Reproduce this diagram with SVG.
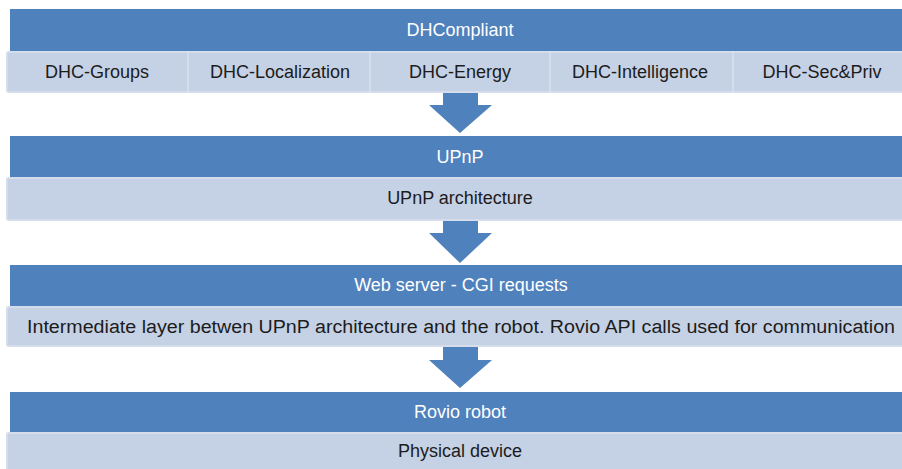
<svg xmlns="http://www.w3.org/2000/svg" width="902" height="469" viewBox="0 0 902 469">
<style>
.band{fill:#4f81bd}
.sub{fill:#c5d1e4;stroke:#d5dded;stroke-width:2}
.arrow{fill:#4f81bd}
text{font-family:"Liberation Sans",Arial,sans-serif;font-size:18px;text-anchor:middle}
.tw{fill:#ffffff}
.tb{fill:#1c1c1c}
</style>
<rect width="902" height="469" fill="#ffffff"/>
<g id="dhcompliant">
<rect class="band" x="10" y="9" width="892" height="42"/>
<text class="tw" x="460" y="36">DHCompliant</text>
</g>
<g id="dhc-groups">
<rect class="sub" x="7" y="52" width="181" height="40" rx="2"/>
<text class="tb" x="97" y="78">DHC-Groups</text>
</g>
<g id="dhc-localization">
<rect class="sub" x="188" y="52" width="182" height="40" rx="2"/>
<text class="tb" x="280" y="78">DHC-Localization</text>
</g>
<g id="dhc-energy">
<rect class="sub" x="370" y="52" width="180" height="40" rx="2"/>
<text class="tb" x="460" y="78">DHC-Energy</text>
</g>
<g id="dhc-intelligence">
<rect class="sub" x="550" y="52" width="183" height="40" rx="2"/>
<text class="tb" x="640" y="78">DHC-Intelligence</text>
</g>
<g id="dhc-secpriv">
<rect class="sub" x="733" y="52" width="172" height="40" rx="2"/>
<text class="tb" x="822" y="78">DHC-Sec&amp;Priv</text>
</g>
<g id="upnp">
<rect class="band" x="10" y="136" width="892" height="41"/>
<text class="tw" x="460" y="163">UPnP</text>
<rect class="sub" x="7" y="178" width="898" height="42" rx="2"/>
<text class="tb" x="460" y="204">UPnP architecture</text>
</g>
<g id="webserver">
<rect class="band" x="10" y="265" width="892" height="41"/>
<text class="tw" x="461" y="291">Web server - CGI requests</text>
<rect class="sub" x="7" y="307" width="898" height="39" rx="2"/>
<text class="tb" x="461" y="333" textLength="868" lengthAdjust="spacingAndGlyphs">Intermediate layer betwen UPnP architecture and the robot. Rovio API calls used for communication</text>
</g>
<g id="rovio">
<rect class="band" x="10" y="392" width="892" height="40"/>
<text class="tw" x="460" y="418">Rovio robot</text>
<rect class="sub" x="7" y="433" width="898" height="40" rx="2"/>
<text class="tb" x="460" y="457">Physical device</text>
</g>
<g id="connectors">
<polygon class="arrow" points="443,93 478,93 478,105 492,105 460,133 429,105 443,105"/>
<polygon class="arrow" points="443,221 478,221 478,233 492,233 460,263 429,233 443,233"/>
<polygon class="arrow" points="443,347 478,347 478,360 492,360 460,388 429,360 443,360"/>
</g>
</svg>
